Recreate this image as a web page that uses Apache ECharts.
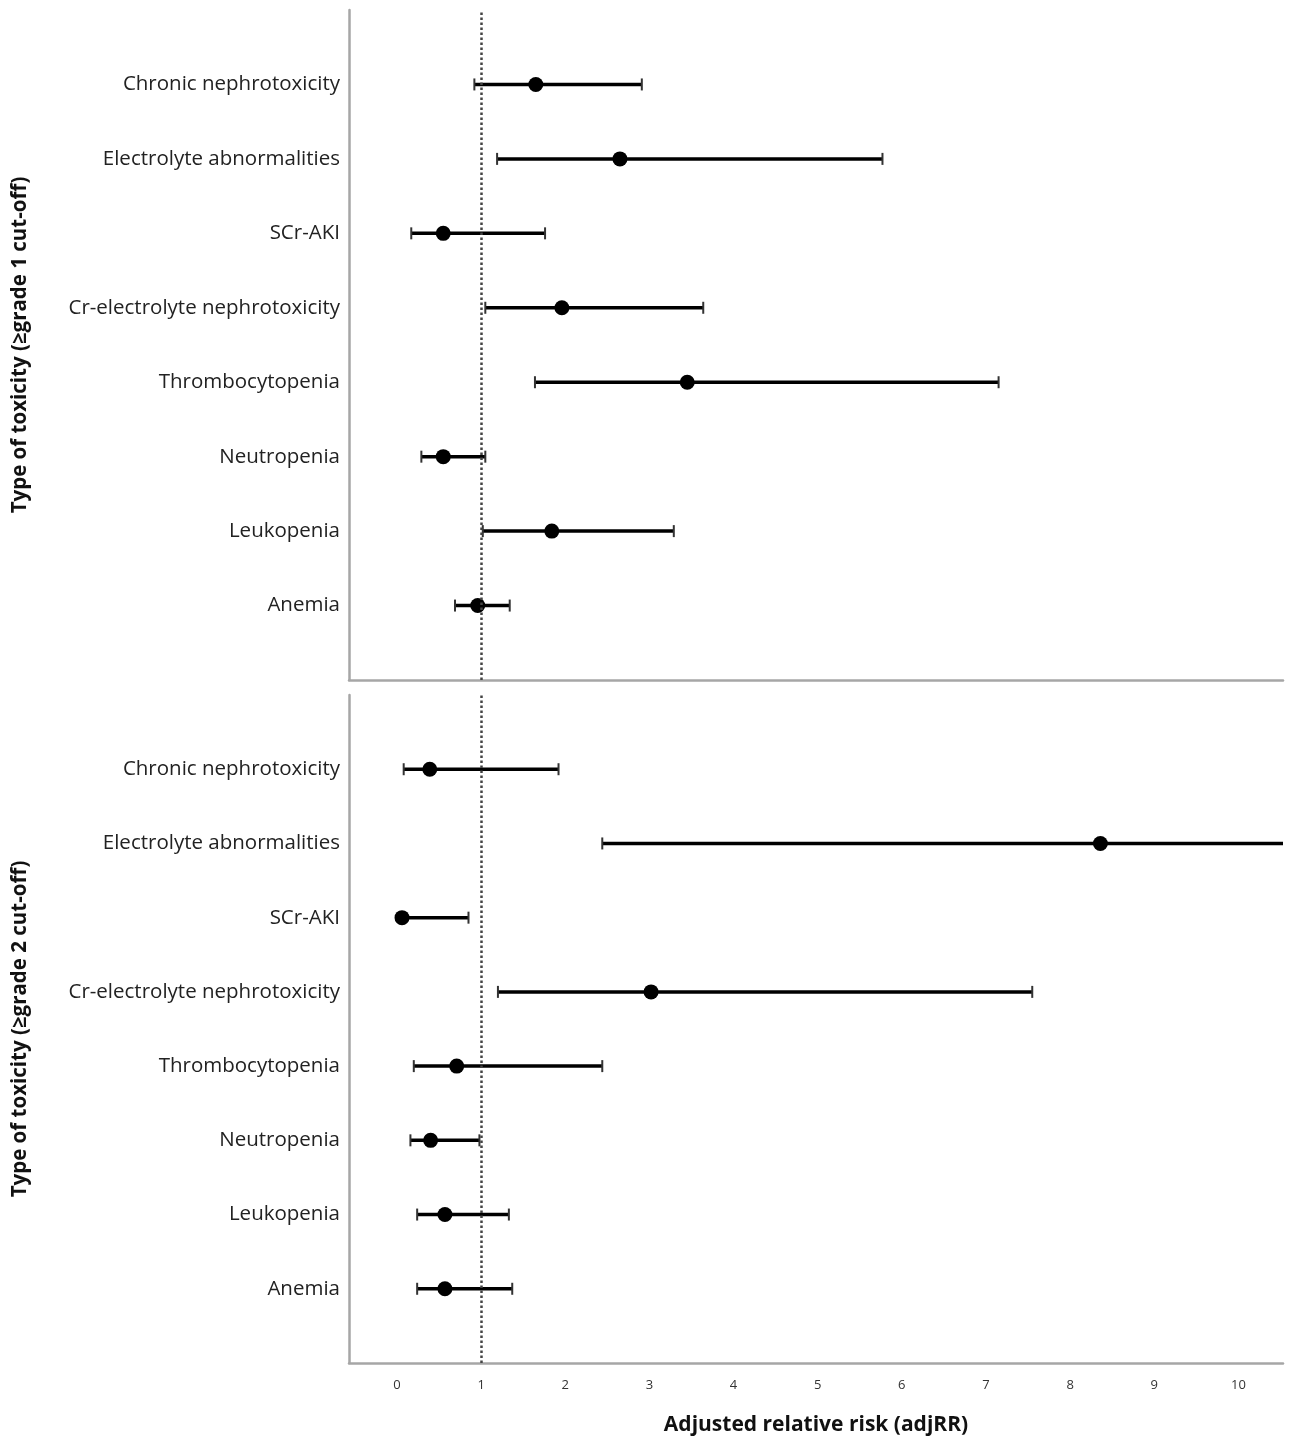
<!DOCTYPE html>
<html>
<head>
<meta charset="utf-8">
<script src="https://cdn.jsdelivr.net/npm/echarts@6/dist/echarts.min.js"></script>
<style>
  html, body { margin: 0; padding: 0; background: #fff; }
  #main { width: 1299px; height: 1446px; }
</style>
</head>
<body>
<div id="main"></div>
<script>
// rows, top to bottom
var toxicities = ['Chronic nephrotoxicity', 'Electrolyte abnormalities', 'SCr-AKI',
  'Cr-electrolyte nephrotoxicity', 'Thrombocytopenia', 'Neutropenia', 'Leukopenia', 'Anemia'];

// >= grade 1 cut-off
var g1Point = [1.65, 2.65, 0.55, 1.96, 3.45, 0.55, 1.84, 0.96];
var g1Lower = [0.92, 1.19, 0.17, 1.05, 1.64, 0.29, 1.02, 0.69];
var g1Upper = [2.91, 5.77, 1.76, 3.64, 7.15, 1.05, 3.29, 1.34];

// >= grade 2 cut-off
var g2Point = [0.39, 8.36, 0.06, 3.02, 0.71, 0.40, 0.57, 0.57];
var g2Lower = [0.08, 2.44, 0.03, 1.20, 0.20, 0.16, 0.24, 0.24];
var g2Upper = [1.92, 10.8, 0.85, 7.55, 2.44, 0.98, 1.33, 1.37];

var xTicks = [0, 1, 2, 3, 4, 5, 6, 7, 8, 9, 10];

var myChart = echarts.init(document.getElementById('main'));

// category axis with an empty slot above and below the rows
var cats = [''].concat(toxicities.slice().reverse()).concat(['']);
function idx(i) { return toxicities.length - i; }

var labelFont = { fontFamily: 'Open Sans', fontSize: 20.5, color: '#222' };
var axisLine = { show: true, onZero: false, lineStyle: { color: '#a6a6a6', width: 2.5 } };

function yAxis(gi, name) {
  return {
    type: 'category',
    gridIndex: gi,
    data: cats,
    boundaryGap: false,
    axisLine: axisLine,
    axisTick: { show: false },
    axisLabel: Object.assign({ interval: 0, margin: 9 }, labelFont),
    name: name,
    nameLocation: 'middle',
    nameRotate: 90,
    nameGap: 318,
    nameTextStyle: { fontFamily: 'Open Sans', fontSize: 20.5, fontWeight: 'bold', color: '#111' }
  };
}

function xAxis(gi, showLabels) {
  return {
    type: 'value',
    gridIndex: gi,
    min: -0.57,
    max: 10.53,
    splitLine: { show: false },
    axisLine: axisLine,
    axisTick: { show: false },
    axisLabel: {
      show: showLabels,
      customValues: xTicks,
      fontFamily: 'Open Sans',
      fontSize: 13,
      color: '#333',
      margin: 16
    },
    name: showLabels ? 'Adjusted relative risk (adjRR)' : '',
    nameLocation: 'middle',
    nameGap: 52,
    nameTextStyle: { fontFamily: 'Open Sans', fontSize: 21, fontWeight: 'bold', color: '#111' }
  };
}

function bars(gi, lower, upper) {
  return {
    type: 'custom',
    xAxisIndex: gi,
    yAxisIndex: gi,
    clip: true,
    data: lower.map(function (v, i) { return [v, upper[i], idx(i)]; }),
    encode: { x: [0, 1], y: 2 },
    renderItem: function (params, api) {
      var a = api.coord([api.value(0), api.value(2)]);
      var b = api.coord([api.value(1), api.value(2)]);
      var cap = 6;
      return {
        type: 'group',
        children: [
          { type: 'line', shape: { x1: a[0], y1: a[1], x2: b[0], y2: b[1] },
            style: { stroke: '#000', lineWidth: 3.5 } },
          { type: 'line', shape: { x1: a[0], y1: a[1] - cap, x2: a[0], y2: a[1] + cap },
            style: { stroke: '#333', lineWidth: 2 } },
          { type: 'line', shape: { x1: b[0], y1: b[1] - cap, x2: b[0], y2: b[1] + cap },
            style: { stroke: '#333', lineWidth: 2 } }
        ]
      };
    },
    z: 2
  };
}

function dots(gi, pts) {
  return {
    type: 'scatter',
    xAxisIndex: gi,
    yAxisIndex: gi,
    symbolSize: 15,
    itemStyle: { color: '#000', opacity: 1 },
    data: pts.map(function (v, i) { return [v, idx(i)]; }),
    markLine: {
      silent: true,
      symbol: 'none',
      label: { show: false },
      lineStyle: { type: 'dotted', color: '#444', width: 2.5 },
      data: [{ xAxis: 1 }]
    },
    z: 3
  };
}

option = {
  backgroundColor: '#fff',
  animation: false,
  grid: [
    { left: 349, top: 10, width: 934, height: 670 },
    { left: 349, top: 695, width: 934, height: 668 }
  ],
  xAxis: [xAxis(0, false), xAxis(1, true)],
  yAxis: [
    yAxis(0, 'Type of toxicity (\u2265grade 1 cut-off)'),
    yAxis(1, 'Type of toxicity (\u2265grade 2 cut-off)')
  ],
  series: [
    bars(0, g1Lower, g1Upper),
    dots(0, g1Point),
    bars(1, g2Lower, g2Upper),
    dots(1, g2Point)
  ]
};

myChart.setOption(option);
</script>
</body>
</html>
